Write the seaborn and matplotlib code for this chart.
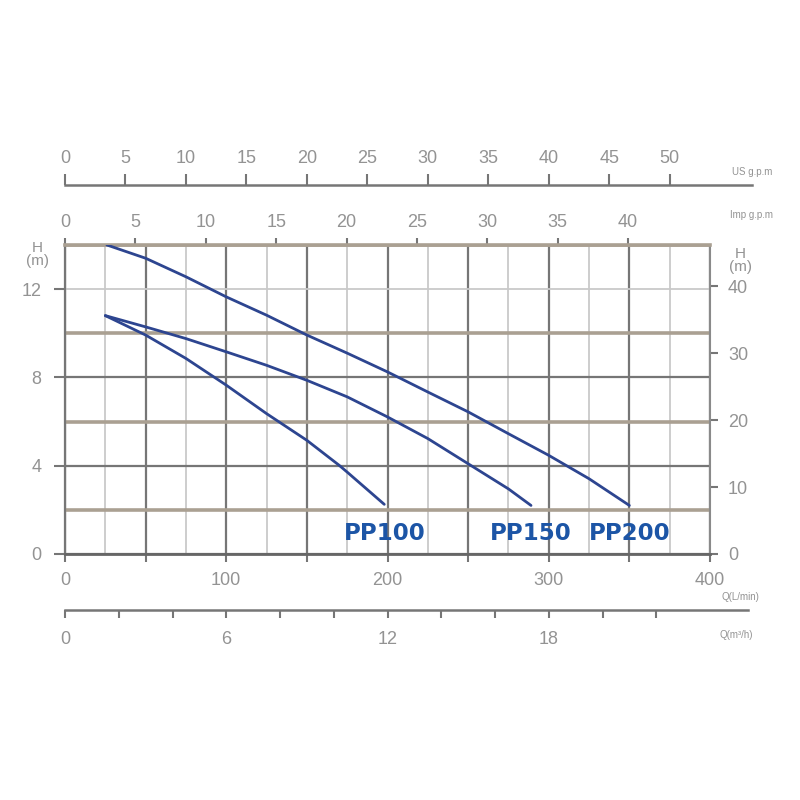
import matplotlib
matplotlib.use("Agg")
import matplotlib.pyplot as plt
from matplotlib.ticker import MultipleLocator, FixedLocator, FuncFormatter
import numpy as np
import pandas as pd
import seaborn as sns

# pump curves, flow Q in L/min, head H in m
PP100_Q = [25, 50, 75, 100, 125, 150, 170, 175, 198]
PP100_H = [10.8, 9.92, 8.86, 7.65, 6.36, 5.15, 4.02, 3.71, 2.25]
PP150_Q = [25, 50, 75, 100, 125, 150, 175, 200, 225, 250, 275, 289]
PP150_H = [10.8, 10.29, 9.76, 9.16, 8.55, 7.87, 7.12, 6.21, 5.23, 4.09, 2.95, 2.2]
PP200_Q = [26, 50, 75, 100, 125, 150, 175, 200, 225, 250, 275, 300, 325, 350]
PP200_H = [14.0, 13.4, 12.56, 11.65, 10.82, 9.92, 9.1, 8.25, 7.34, 6.44, 5.45, 4.47, 3.41, 2.2]
MODELS = ["PP100", "PP150", "PP200"]

# scale conversions as printed on the sheet
Q_PER_M3H = 1000 / 60
Q_PER_USGPM = 7.5
Q_PER_IMPGPM = 8.73
FT_PER_M = 3.3

Q_TICKS = [0, 100, 200, 300, 400]
H_TICKS = [0, 4, 8, 12]
H_MINOR = [2, 6, 10, 14]
FT_TICKS = [0, 10, 20, 30, 40]
M3H_TICKS = list(range(0, 24, 2))
USGPM_TICKS = list(range(0, 55, 5))
IMPGPM_TICKS = list(range(0, 45, 5))

CURVE = "#2d4590"
LABEL_BLUE = "#1c55a6"
DARK = "#767676"
LIGHT = "#c9c9c9"
TAN = "#aaa092"
TXT = "#939393"

df = pd.concat([
    pd.DataFrame({"Q": PP100_Q, "H": PP100_H, "model": "PP100"}),
    pd.DataFrame({"Q": PP150_Q, "H": PP150_H, "model": "PP150"}),
    pd.DataFrame({"Q": PP200_Q, "H": PP200_H, "model": "PP200"}),
])

sns.set_style("white")
plt.rcParams["font.family"] = ["Liberation Sans", "DejaVu Sans"]

fig = plt.figure(figsize=(8, 8), dpi=100)
ax = fig.add_axes([0.08125, 0.3075, 0.80625, 0.38625])

sns.lineplot(data=df, x="Q", y="H", hue="model", palette=[CURVE] * 3,
             estimator=None, sort=False, lw=2.0, legend=False, ax=ax, zorder=5)

for name, qs in zip(MODELS, [PP100_Q, PP150_Q, PP200_Q]):
    ax.text(qs[-1], 0.95, name, ha="center", va="center", color=LABEL_BLUE,
            fontsize=16.5, fontweight="bold", family="DejaVu Sans", zorder=6)

ax.set_xlim(0, 400)
ax.set_ylim(0, 14)
ax.set_xlabel("")
ax.set_ylabel("")

# x grid: dark every 50, light in between
ax.xaxis.set_major_locator(MultipleLocator(50))
ax.xaxis.set_major_formatter(FuncFormatter(lambda v, p: f"{v:.0f}" if v in Q_TICKS else ""))
ax.xaxis.set_minor_locator(MultipleLocator(25))
ax.yaxis.set_major_locator(FixedLocator(H_TICKS))
ax.yaxis.set_minor_locator(FixedLocator(H_MINOR))
ax.set_axisbelow(True)
ax.grid(which="major", axis="x", color=DARK, lw=1.6)
ax.grid(which="minor", axis="x", color=LIGHT, lw=1.3)
ax.grid(which="major", axis="y", color=DARK, lw=1.6)
ax.grid(which="minor", axis="y", color=TAN, lw=2.6)
ax.yaxis.get_major_ticks()[3].gridline.set_color(LIGHT)
ax.yaxis.get_major_ticks()[3].gridline.set_linewidth(1.3)

ax.tick_params(which="major", axis="x", direction="out", length=6, width=1.5,
               color=DARK, labelcolor=TXT, labelsize=13, pad=7, bottom=True)
ax.tick_params(which="major", axis="y", direction="out", length=8, width=1.5,
               color=DARK, labelcolor=TXT, labelsize=13, pad=9, left=True)
ax.tick_params(which="minor", length=0)

ax.spines["left"].set_color(DARK)
ax.spines["left"].set_linewidth(1.6)
ax.spines["bottom"].set_color("#666666")
ax.spines["bottom"].set_linewidth(2)
ax.spines["top"].set_color(TAN)
ax.spines["top"].set_linewidth(2.6)
ax.spines["right"].set_color("#8a8a8a")
ax.spines["right"].set_linewidth(1.5)

# right axis in feet
sec_r = ax.secondary_yaxis("right", functions=(lambda h: h * FT_PER_M, lambda f: f / FT_PER_M))
sec_r.set_yticks(FT_TICKS)
sec_r.tick_params(direction="out", length=6, width=1.5, color=DARK,
                  labelcolor=TXT, labelsize=13, pad=7)
sec_r.spines["right"].set_visible(False)

# bottom m3/h axis
sec_b = ax.secondary_xaxis(-0.181, functions=(lambda q: q / Q_PER_M3H, lambda m: m * Q_PER_M3H))
sec_b.set_xticks(M3H_TICKS)
sec_b.xaxis.set_major_formatter(FuncFormatter(lambda v, p: f"{v:.0f}" if v % 6 == 0 else ""))
sec_b.tick_params(direction="out", length=6, width=1.5, color=DARK,
                  labelcolor=TXT, labelsize=13, pad=9)
sec_b.spines["bottom"].set_color(DARK)
sec_b.spines["bottom"].set_linewidth(1.8)
sec_b.spines["bottom"].set_bounds(0, 25.4)

# top Imp gpm axis (on the frame)
sec_imp = ax.secondary_xaxis("top", functions=(lambda q: q / Q_PER_IMPGPM, lambda g: g * Q_PER_IMPGPM))
sec_imp.set_xticks(IMPGPM_TICKS)
sec_imp.tick_params(direction="out", length=5, width=1.5, color=DARK,
                    labelcolor=TXT, labelsize=13, pad=5)
sec_imp.spines["top"].set_visible(False)

# top US gpm axis
sec_us = ax.secondary_xaxis(1.194, functions=(lambda q: q / Q_PER_USGPM, lambda g: g * Q_PER_USGPM))
sec_us.set_xticks(USGPM_TICKS)
sec_us.tick_params(direction="out", length=8, width=1.5, color=DARK,
                   labelcolor=TXT, labelsize=13, pad=5)
sec_us.spines["top"].set_color(DARK)
sec_us.spines["top"].set_linewidth(1.8)
sec_us.spines["top"].set_bounds(0, 56.8)

# unit labels
fig.text(0.047, 0.682, "H\n(m)", ha="center", va="center", color=TXT, fontsize=11, linespacing=0.9)
fig.text(0.925, 0.674, "H\n(m)", ha="center", va="center", color=TXT, fontsize=11, linespacing=0.9)
fig.text(0.94, 0.785, "US g.p.m", ha="center", va="center", color=TXT, fontsize=7)
fig.text(0.94, 0.731, "Imp g.p.m", ha="center", va="center", color=TXT, fontsize=7)
fig.text(0.925, 0.254, "Q(L/min)", ha="center", va="center", color=TXT, fontsize=7)
fig.text(0.92, 0.206, "Q(m\u00b3/h)", ha="center", va="center", color=TXT, fontsize=7)

fig.savefig("out.png", dpi=100)
